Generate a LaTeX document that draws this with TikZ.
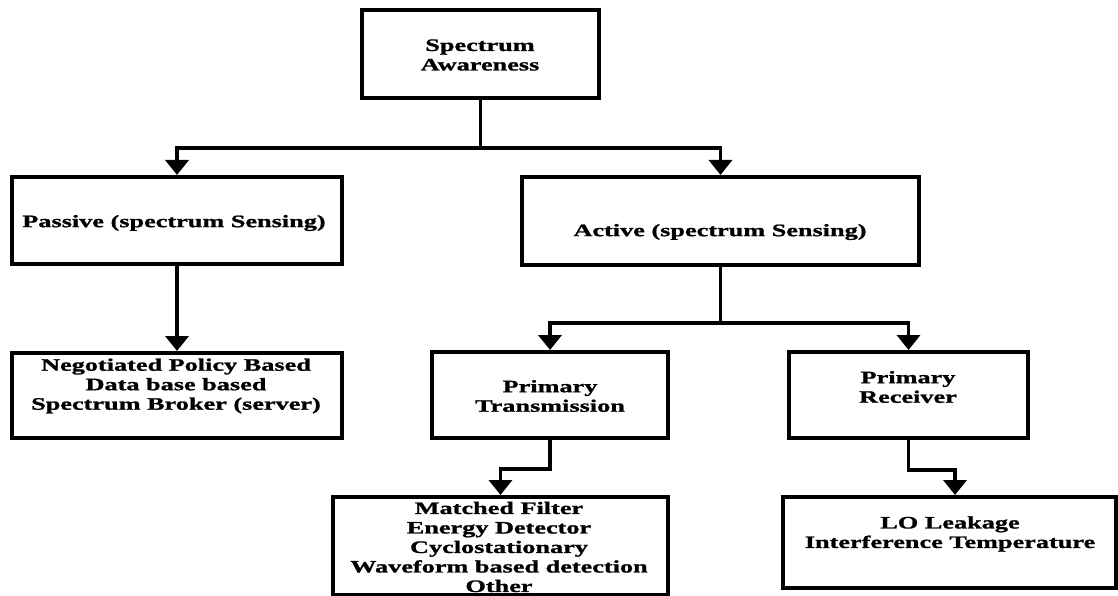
\documentclass[tikz,border=0pt]{standalone}
\usepackage{fontspec}
\setmainfont{Liberation Serif}[FakeStretch=1.5, BoldFeatures={FakeBold=1.2}]
\usetikzlibrary{arrows.meta}

\begin{document}
\begin{tikzpicture}[x=1pt,y=-1pt,
  box/.style={draw, line width=4pt, inner sep=0pt},
  lbl/.style={inner sep=0pt, align=center,
    font=\bfseries\fontsize{17.5}{19.5}\selectfont},
  conn/.style={line width=3.5pt},
  arr/.style={line width=3.5pt, -{Triangle[width=23pt,length=15pt]}}]

\useasboundingbox (0,0) rectangle (1118,596);

% boxes
\node[box, minimum width=237pt, minimum height=88pt] (sa)  at (480.5,54) {};
\node[box, minimum width=330pt, minimum height=87pt] (pas) at (177,220.5) {};
\node[box, minimum width=397pt, minimum height=88pt] (act) at (720.5,221) {};
\node[box, minimum width=330pt, minimum height=85pt] (neg) at (177,395.5) {};
\node[box, minimum width=236pt, minimum height=86pt] (ptx) at (550,395) {};
\node[box, minimum width=239pt, minimum height=86pt] (prx) at (908.5,395) {};
\node[box, minimum width=335pt, minimum height=98pt] (det) at (500.5,546) {};
\node[box, minimum width=333pt, minimum height=91pt] (rcv) at (949.5,542.5) {};

% labels
\node[lbl] (sa-t)  at (480,55)  {Spectrum\\Awareness};
\node[lbl] (pas-t) at (174,223) {Passive (spectrum Sensing)};
\node[lbl] (act-t) at (720,232) {Active (spectrum Sensing)};
\node[lbl] (neg-t) at (176,386) {Negotiated Policy Based\\Data base based\\Spectrum Broker (server)};
\node[lbl] (ptx-t) at (550,396) {Primary\\Transmission};
\node[lbl] (prx-t) at (908,387) {Primary\\Receiver};
\node[lbl] (det-t) at (499,547) {Matched Filter\\Energy Detector\\Cyclostationary\\Waveform based detection\\Other};
\node[lbl] (rcv-t) at (950,534) {LO Leakage\\Interference Temperature};

% connectors
\coordinate (j1) at (480.5,148);
\draw[conn] (sa.south) -- (j1);
\draw[arr] (j1) -| (pas.north);
\draw[arr] (j1) -| (act.north);
\draw[arr] (pas.south) -- (neg.north);

\coordinate (j2) at (720.5,323);
\draw[conn] (act.south) -- (j2);
\draw[arr] (j2) -| (ptx.north);
\draw[arr] (j2) -| (prx.north);

\draw[arr] (ptx.south) -- ++(0,29) -| (det.north);
\draw[arr] (prx.south) -- ++(0,30) -| ([xshift=5.5pt]rcv.north);
\end{tikzpicture}
\end{document}
